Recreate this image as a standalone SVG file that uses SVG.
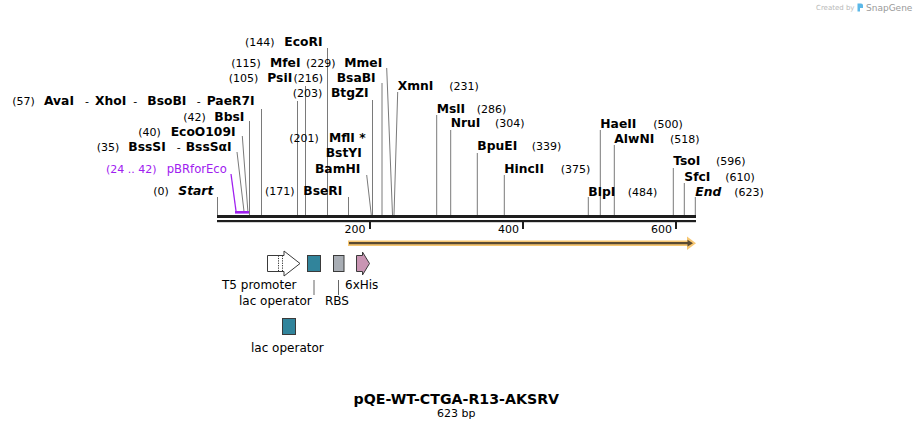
<svg xmlns="http://www.w3.org/2000/svg" width="913" height="429" viewBox="0 0 913 429">
<style>
text{font-family:"DejaVu Sans","Liberation Sans",sans-serif;fill:#000}
.n{font-size:11px}
.b{font-size:12.3px;font-weight:bold}
.bi{font-size:12.3px;font-weight:bold;font-style:italic}
.f{font-size:12px}
.p{fill:#a020f0}
.c line{stroke:#7a7a7a;stroke-width:1}
.box{stroke:#3a3a3a;stroke-width:1}
</style>
<rect width="913" height="429" fill="#fff"/>

<g id="watermark">
<text x="816" y="10" style="font-size:7px;fill:#b8b8b8">Created by</text>
<path d="M857.5 3.5h3.5q2 0 2 2v2.5h-3v3.5h-2.5z" fill="#5bb8e8"/>
<text x="866" y="11" style="font-size:9px;fill:#9a9a9a">SnapGene</text>
</g>

<g id="connectors" class="c">
<line x1="217.5" y1="197" x2="217.5" y2="215"/>
<line x1="237" y1="152" x2="244.2" y2="213"/>
<line x1="242.3" y1="136" x2="248" y2="213"/>
<line x1="249.5" y1="121" x2="249.5" y2="215"/>
<line x1="261.5" y1="109" x2="261.5" y2="215"/>
<line x1="297.5" y1="101" x2="297.5" y2="215"/>
<line x1="305.5" y1="86" x2="305.5" y2="215"/>
<line x1="327.5" y1="48" x2="327.5" y2="215"/>
<line x1="348.5" y1="197" x2="348.5" y2="215"/>
<line x1="366.7" y1="175" x2="371.3" y2="215"/>
<line x1="372.5" y1="100" x2="372.5" y2="215"/>
<line x1="382" y1="83" x2="382" y2="215"/>
<line x1="386.7" y1="68" x2="392.5" y2="215"/>
<line x1="397.7" y1="92" x2="394" y2="215"/>
<line x1="436.7" y1="115" x2="436.7" y2="215"/>
<line x1="450.7" y1="130" x2="450.7" y2="215"/>
<line x1="477.3" y1="153" x2="477.3" y2="215"/>
<line x1="504.3" y1="175" x2="504.3" y2="215"/>
<line x1="588.3" y1="197" x2="588.3" y2="215"/>
<line x1="600.3" y1="130" x2="600.3" y2="215"/>
<line x1="614.3" y1="145" x2="614.3" y2="215"/>
<line x1="673.3" y1="168" x2="673.3" y2="215"/>
<line x1="684.3" y1="183" x2="684.3" y2="215"/>
<line x1="695.3" y1="197" x2="695.3" y2="215"/>
<line x1="231" y1="174" x2="236" y2="211" style="stroke:#a020f0;stroke-width:1.3"/>
<line x1="314" y1="280" x2="314" y2="295" style="stroke:#666"/>
<line x1="338.5" y1="280" x2="338.5" y2="295" style="stroke:#666"/>
</g>

<g id="backbone">
<rect x="217" y="215" width="479" height="3" fill="#1e1e1e"/>
<rect x="217" y="220" width="479" height="2.2" fill="#1e1e1e"/>
<rect x="369" y="222" width="2" height="7" fill="#1e1e1e"/>
<rect x="522" y="222" width="2" height="7" fill="#1e1e1e"/>
<rect x="675" y="222" width="2" height="7" fill="#1e1e1e"/>
<text class="n" x="365.5" y="233" text-anchor="end">200</text>
<text class="n" x="519" y="233" text-anchor="end">400</text>
<text class="n" x="672" y="233" text-anchor="end">600</text>
</g>

<g id="pBRforEco">
<rect x="235" y="211" width="14" height="2.6" fill="#a020f0"/>
<text class="n p" x="106" y="172.5">(24 .. 42)</text>
<text class="p" x="166.7" y="172.5" style="font-size:11.6px">pBRforEco</text>
</g>

<g id="orf">
<line x1="348" y1="243.2" x2="690" y2="243.2" stroke="#f7c772" stroke-width="5.5"/>
<polygon points="687,236.5 696,243.2 687,250" fill="#f7c772"/>
<line x1="349" y1="243.2" x2="689" y2="243.2" stroke="#5a4a32" stroke-width="2.2"/>
<polygon points="687.5,239.8 693,243.2 687.5,246.6" fill="#5a4a32"/>
</g>

<g id="t5promoter">
<path d="M267.5 255.5H284V251L300 263.5L284 276V271.5H267.5Z" fill="#fff" class="box"/>
<line x1="278.5" y1="255.5" x2="278.5" y2="271.5" stroke="#333" stroke-dasharray="1.2,1.2"/>
<line x1="282.5" y1="255.5" x2="282.5" y2="271.5" stroke="#333" stroke-dasharray="1.2,1.2"/>
<text class="f" x="222" y="289">T5 promoter</text>
</g>
<g id="lacop1">
<rect x="307.5" y="255.5" width="13" height="16" fill="#31849b" class="box"/>
<text class="f" x="239" y="305">lac operator</text>
</g>
<g id="rbs">
<rect x="333.5" y="255.5" width="10.5" height="16" fill="#a8adb4" class="box"/>
<text class="f" x="325" y="305">RBS</text>
</g>
<g id="his6">
<path d="M356.5 255.5H362.5V252L369.5 263.5L362.5 275V271.5H356.5Z" fill="#c995b3" class="box"/>
<text class="f" x="345" y="289">6xHis</text>
</g>
<g id="lacop2">
<rect x="282.5" y="318.5" width="13" height="16" fill="#31849b" class="box"/>
<text class="f" x="251" y="352">lac operator</text>
</g>

<g id="Start"><text class="n" x="153.3" y="195">(0)</text><text class="bi" x="178.3" y="195">Start</text></g>
<g id="BssSI"><text class="n" x="96.7" y="150.5">(35)</text><text class="b" x="128.3" y="150.5">BssSI</text><text class="n" x="176.7" y="150.5">-</text><text class="b" x="185.7" y="150.5">BssSαI</text></g>
<g id="EcoO109I"><text class="n" x="138.3" y="136">(40)</text><text class="b" x="170.7" y="136">EcoO109I</text></g>
<g id="BbsI"><text class="n" x="183.3" y="120.5">(42)</text><text class="b" x="214.3" y="120.5">BbsI</text></g>
<g id="AvaI"><text class="n" x="12.3" y="105">(57)</text><text class="b" x="44" y="105">AvaI</text><text class="n" x="85" y="105">-</text><text class="b" x="95" y="105">XhoI</text><text class="n" x="133.3" y="105">-</text><text class="b" x="147.3" y="105">BsoBI</text><text class="n" x="196.7" y="105">-</text><text class="b" x="206.7" y="105">PaeR7I</text></g>
<g id="PsiI"><text class="n" x="228.7" y="81.5">(105)</text><text class="b" x="267.3" y="81.5">PsiI</text></g>
<g id="MfeI"><text class="n" x="231.3" y="66.5">(115)</text><text class="b" x="270" y="66.5">MfeI</text></g>
<g id="EcoRI"><text class="n" x="245" y="46">(144)</text><text class="b" x="284.3" y="46">EcoRI</text></g>
<g id="BseRI"><text class="n" x="265" y="195">(171)</text><text class="b" x="303.3" y="195">BseRI</text></g>
<g id="BamHI"><text class="n" x="289.3" y="141.5">(201)</text><text class="b" x="329" y="141.5">MflI *</text><text class="b" x="325.7" y="156.5">BstYI</text><text class="b" x="315" y="172.5">BamHI</text></g>
<g id="BtgZI"><text class="n" x="292.7" y="96.5">(203)</text><text class="b" x="331" y="96.5">BtgZI</text></g>
<g id="BsaBI"><text class="n" x="293.5" y="81.5">(216)</text><text class="b" x="336.7" y="81.5">BsaBI</text></g>
<g id="MmeI"><text class="n" x="306" y="66.5">(229)</text><text class="b" x="344.3" y="66.5">MmeI</text></g>
<g id="XmnI"><text class="b" x="397.7" y="90">XmnI</text><text class="n" x="449.3" y="90">(231)</text></g>
<g id="MslI"><text class="b" x="436.7" y="112.5">MslI</text><text class="n" x="476.7" y="112.5">(286)</text></g>
<g id="NruI"><text class="b" x="450.7" y="127">NruI</text><text class="n" x="495" y="127">(304)</text></g>
<g id="BpuEI"><text class="b" x="477.3" y="150">BpuEI</text><text class="n" x="531.7" y="150">(339)</text></g>
<g id="HincII"><text class="b" x="504.3" y="172.5">HincII</text><text class="n" x="560.7" y="172.5">(375)</text></g>
<g id="BlpI"><text class="b" x="588.3" y="195.5">BlpI</text><text class="n" x="627.7" y="195.5">(484)</text></g>
<g id="HaeII"><text class="b" x="600.3" y="127.5">HaeII</text><text class="n" x="653.3" y="127.5">(500)</text></g>
<g id="AlwNI"><text class="b" x="614.3" y="142.5">AlwNI</text><text class="n" x="670" y="142.5">(518)</text></g>
<g id="TsoI"><text class="b" x="673.3" y="165">TsoI</text><text class="n" x="716" y="165">(596)</text></g>
<g id="SfcI"><text class="b" x="684.3" y="180.5">SfcI</text><text class="n" x="725.3" y="180.5">(610)</text></g>
<g id="End"><text class="bi" x="695.3" y="195.5">End</text><text class="n" x="734.3" y="195.5">(623)</text></g>

<g id="title">
<text x="456.3" y="404" text-anchor="middle" style="font-size:14.2px;font-weight:bold">pQE-WT-CTGA-R13-AKSRV</text>
<text class="n" x="456.3" y="417" text-anchor="middle">623 bp</text>
</g>
</svg>
